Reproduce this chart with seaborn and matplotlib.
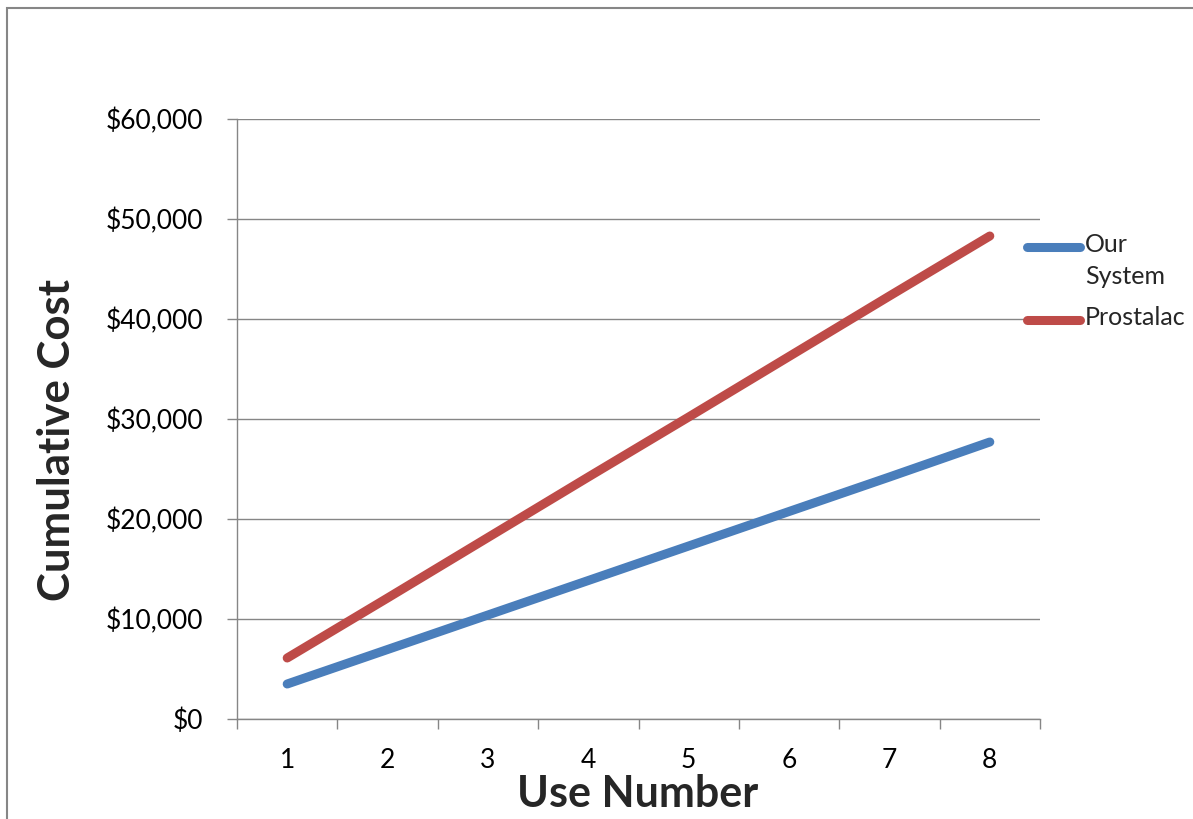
import numpy as np
import pandas as pd
import matplotlib.pyplot as plt
from matplotlib.lines import Line2D
from matplotlib.patches import Rectangle
from matplotlib.ticker import FuncFormatter, MultipleLocator
import seaborn as sns

# data
uses = [1, 2, 3, 4, 5, 6, 7, 8]
our_system = [3500, 6950, 10400, 13850, 17300, 20750, 24200, 27700]
prostalac = [6100, 12100, 18150, 24200, 30200, 36250, 42300, 48300]
series_names = ['Our System', 'Prostalac']
colors = {'Our System': '#4A7EBB', 'Prostalac': '#BE4B48'}

df = pd.DataFrame({
    'Use': uses * 2,
    'Cost': our_system + prostalac,
    'Series': ['Our System'] * len(uses) + ['Prostalac'] * len(uses),
})

sns.set_theme(style='white')
plt.rcParams['font.family'] = ['Lato', 'DejaVu Sans']

W, H = 1193, 819
fig = plt.figure(figsize=(W / 100, H / 100), dpi=100)
ax = fig.add_axes([237 / W, 1 - 719 / H, (1040 - 237) / W, (719 - 119) / H])

sns.lineplot(data=df, x='Use', y='Cost', hue='Series', palette=colors,
             linewidth=6.5, ax=ax, legend=False,
             solid_capstyle='round')

grid_c = '#868686'
ax.set_xlim(0.5, 8.5)
ax.set_ylim(0, 60000)
ax.yaxis.set_major_locator(MultipleLocator(10000))
ax.yaxis.set_major_formatter(FuncFormatter(lambda v, p: f'${v:,.0f}'))
ax.xaxis.set_minor_locator(MultipleLocator(1, offset=0.5))
ax.set_xticks(uses)
ax.grid(axis='y', color=grid_c, linewidth=1.0)
ax.grid(axis='x', visible=False)
for s in ['top', 'right']:
    ax.spines[s].set_visible(False)
for s in ['left', 'bottom']:
    ax.spines[s].set_color(grid_c)
    ax.spines[s].set_linewidth(1.0)
ax.tick_params(axis='y', which='major', direction='out', length=7.2, width=1.0,
               color=grid_c, labelsize=19, pad=17, left=True, labelcolor='black')
ax.tick_params(axis='x', which='major', length=0, labelsize=19, pad=21, labelcolor='black')
ax.tick_params(axis='x', which='minor', direction='out', length=7.2, width=1.0,
               color=grid_c, bottom=True)
ax.set_xlabel('')
ax.set_ylabel('')

fig.text(638 / W, 1 - 794 / H, 'Use Number', fontsize=31, fontweight='bold',
         ha='center', va='center')
fig.text(57 / W, 1 - 440 / H, 'Cumulative Cost', fontsize=31.5, fontweight='bold',
         ha='center', va='center', rotation=90)

# legend drawn to the right of the plot
leg_y = [247, 320]
leg_labels = ['Our\nSystem', 'Prostalac']
for name, y, lab in zip(series_names, leg_y, leg_labels):
    fig.add_artist(Line2D([1027 / W, 1080 / W], [1 - y / H, 1 - y / H],
                          color=colors[name], linewidth=6.5, solid_capstyle='round'))
    fig.text(1085 / W, 1 - (y - 14) / H, lab, fontsize=18, ha='left', va='top',
             linespacing=1.45)

# outer chart frame
fig.add_artist(Rectangle((7 / W, -0.1), 1.2, 1 - 8 / H + 0.1, fill=False,
                         edgecolor=grid_c, linewidth=1.5, transform=fig.transFigure))

fig.savefig('out.png', dpi=100)
